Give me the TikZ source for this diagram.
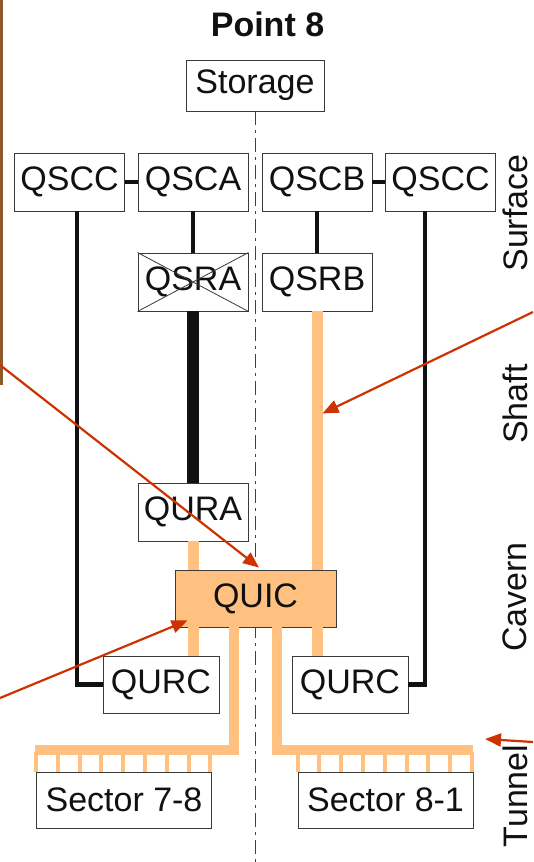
\documentclass[tikz,border=0pt]{standalone}
\usepackage{fontspec}
\setmainfont{Liberation Sans}
\usetikzlibrary{arrows.meta,backgrounds}
\definecolor{ink}{HTML}{111111}
\definecolor{frame}{HTML}{3A3A3A}
\definecolor{feed}{HTML}{FFC080}
\definecolor{pointer}{HTML}{CC3300}
\definecolor{film}{HTML}{8E5A2C}
\newcommand{\boxfont}{\fontsize{34}{40}\selectfont}

\begin{document}
\begin{tikzpicture}[x=1pt,y=-1pt,
  unit/.style={draw=frame,line width=0.9pt,fill=white,font=\boxfont,text=ink,
    minimum width=110pt,minimum height=58pt,inner sep=0},
  side/.style={rotate=90,font=\boxfont,text=ink,inner sep=0},
  wire/.style={ink,line width=4.5pt},
  heavy/.style={ink,line width=11.5pt},
  feedline/.style={feed,line width=11pt},
  bus/.style={feed,line width=10pt},
  tooth/.style={feed,line width=4pt},
  axis/.style={black!75,line width=0.9pt,dash pattern=on 14pt off 5pt on 3pt off 5pt},
  ptr/.style={pointer,line width=2.2pt,-{Triangle[length=16pt,width=13pt]}}]
\useasboundingbox (0,0) rectangle (533,862);
\fill[film] (0,0) rectangle (2.5,385);

% surface level
\node[font=\boxfont\bfseries,text=ink] (title) at (267.5,24) {Point 8};
\node[unit,minimum width=138pt,minimum height=51pt] (storage) at (255,85.5) {Storage};
\node[unit] (qsccl) at (69.5,182) {QSCC};
\node[unit] (qsca) at (193,182) {QSCA};
\node[unit] (qscb) at (317,182) {QSCB};
\node[unit] (qsccr) at (440.5,182) {QSCC};
\node[unit] (qsra) at (193,282) {QSRA};
\node[unit] (qsrb) at (317,282) {QSRB};
\draw[frame,line width=0.8pt] (qsra.south west) -- (qsra.north east)
  (qsra.north west) -- (qsra.south east);

% cavern and tunnel
\node[unit] (qura) at (193,512) {QURA};
\node[unit,fill=feed,minimum width=161pt,minimum height=57pt] (quic) at (255.5,598.5) {QUIC};
\node[unit,minimum width=116pt,minimum height=57pt] (qurcl) at (161,684.5) {QURC};
\node[unit,minimum width=116pt,minimum height=57pt] (qurcr) at (350,684.5) {QURC};
\node[unit,minimum width=175pt,minimum height=56pt] (sa) at (124,800) {Sector 7-8};
\node[unit,minimum width=175pt,minimum height=56pt] (sb) at (385.5,800) {Sector 8-1};

\node[side] (surface) at (515,213) {Surface};
\node[side] (shaft) at (515,404) {Shaft};
\node[side] (cavern) at (515,597) {Cavern};
\node[side] (tunnel) at (515,796) {Tunnel};

% symmetry axis
\coordinate (bottom) at (255,862);
\begin{scope}[on background layer]
\draw[axis] (storage.south) -- (storage.south |- bottom);
\end{scope}

% warm lines
\draw[wire] (qsccl) -- (qsca);
\draw[wire] (qscb) -- (qsccr);
\draw[wire] (qsca) -- (qsra);
\draw[wire] (qscb) -- (qsrb);
\draw[heavy] (qsra) -- (qura);
\draw[wire] ([xshift=7.5pt]qsccl.south) |- (qurcl.west);
\draw[wire] ([xshift=-15.5pt]qsccr.south) |- (qurcr.east);

% helium feeds
\draw[feedline] (qura) -- (qura.south |- quic.north);
\draw[feedline] (qsrb) -- (qsrb.south |- quic.north);
\draw[feedline] (quic.south -| qura) -- (qurcl.north -| qura);
\draw[feedline] (quic.south -| qsrb) -- (qurcr.north -| qsrb);
\draw[bus] ([xshift=-21.5pt]quic.south) |- ([xshift=-1pt,yshift=22pt]sa.north west);
\draw[bus] ([xshift=21.5pt]quic.south) |- ([yshift=22pt]sb.north east);
\foreach \s in {sa,sb}
  \foreach \i in {0,...,8}
    \draw[tooth] ([xshift=\i*21.8pt]\s.north west) -- ++(0,-20);

% pointers
\coordinate (p1) at (0,365);
\coordinate (p2) at (533,312);
\coordinate (p3) at (0,698);
\coordinate (p4) at (533,742);
\coordinate (t4) at (485,739);
\draw[ptr] (p1) -- ([xshift=3.5pt,yshift=2pt]quic.north);
\draw[ptr] (p2) -- ([xshift=5.5pt,yshift=-102pt]qsrb.south);
\draw[ptr] (p3) -- ([xshift=13pt,yshift=7pt]quic.south west);
\draw[ptr] (p4) -- (t4);
\end{tikzpicture}
\end{document}
